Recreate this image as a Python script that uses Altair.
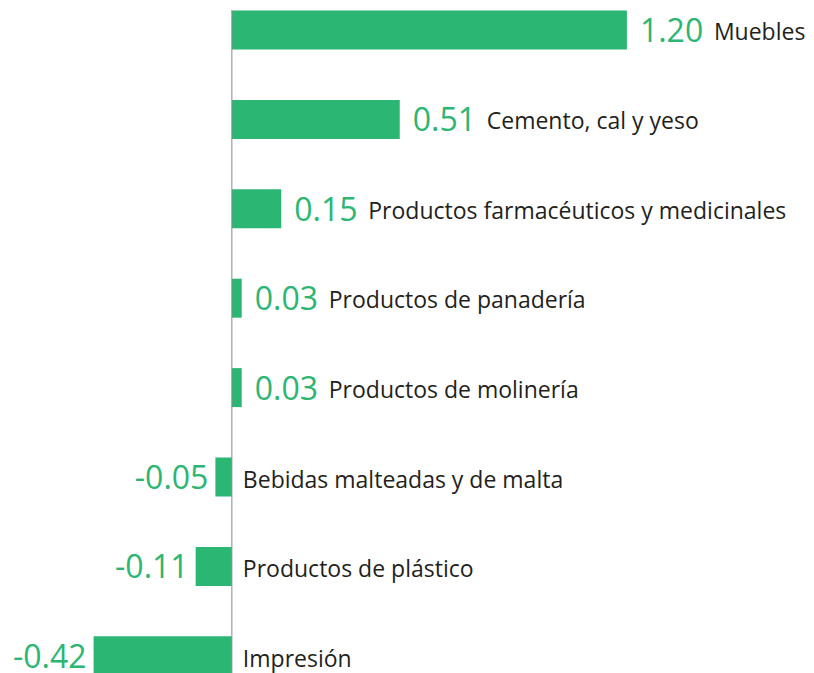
import altair as alt
import pandas as pd

categories = [
    "Muebles",
    "Cemento, cal y yeso",
    "Productos farmacéuticos y medicinales",
    "Productos de panadería",
    "Productos de molinería",
    "Bebidas malteadas y de malta",
    "Productos de plástico",
    "Impresión",
]
values = [1.20, 0.51, 0.15, 0.03, 0.03, -0.05, -0.11, -0.42]

df = pd.DataFrame({"cat": categories, "val": values})
df["lbl"] = df["val"].map(lambda v: f"{v:.2f}")

GREEN = "#2bb673"
DARK = "#231f20"
FONT = "Open Sans"

x_scale = alt.Scale(domain=[-0.68, 1.744], nice=False, zero=False)
y_scale = alt.Scale(domain=categories, range=[2.5, 667.3], paddingInner=0.564, paddingOuter=0)

base = alt.Chart(df)

bars = base.mark_bar(color=GREEN).encode(
    x=alt.X("val:Q", scale=x_scale, axis=None),
    x2=alt.datum(0),
    y=alt.Y("cat:N", scale=y_scale, axis=None, sort=None),
)

zero = alt.Chart(pd.DataFrame({"z": [0]})).mark_rule(color="#8a8a8a", strokeWidth=1).encode(
    x=alt.X("z:Q", scale=x_scale, axis=None),
    y=alt.value(2),
    y2=alt.value(700),
)

pos = base.transform_filter("datum.val >= 0")
neg = base.transform_filter("datum.val < 0")

pos_val = pos.mark_text(align="left", baseline="middle", dx=13, dy=2, fontSize=32, font=FONT, color=GREEN).encode(
    x=alt.X("val:Q", scale=x_scale, axis=None),
    y=alt.Y("cat:N", scale=y_scale, axis=None, sort=None),
    text="lbl:N",
)
pos_cat = pos.mark_text(align="left", baseline="middle", dx=87, dy=3, fontSize=23, font=FONT, color=DARK).encode(
    x=alt.X("val:Q", scale=x_scale, axis=None),
    y=alt.Y("cat:N", scale=y_scale, axis=None, sort=None),
    text="cat:N",
)
neg_val = neg.mark_text(align="right", baseline="middle", dx=-7, dy=2, fontSize=32, font=FONT, color=GREEN).encode(
    x=alt.X("val:Q", scale=x_scale, axis=None),
    y=alt.Y("cat:N", scale=y_scale, axis=None, sort=None),
    text="lbl:N",
)
neg_cat = neg.mark_text(align="left", baseline="middle", dx=11, dy=4, fontSize=23, font=FONT, color=DARK).encode(
    x=alt.datum(0, scale=x_scale),
    y=alt.Y("cat:N", scale=y_scale, axis=None, sort=None),
    text="cat:N",
)

chart = alt.layer(bars, zero, pos_val, pos_cat, neg_val, neg_cat).properties(
    width=798,
    height=667,
    padding=0,
    autosize=alt.AutoSizeParams(type="none"),
).configure_view(stroke=None)

chart.save("out.html", embed_options={"renderer": "svg", "actions": False})
